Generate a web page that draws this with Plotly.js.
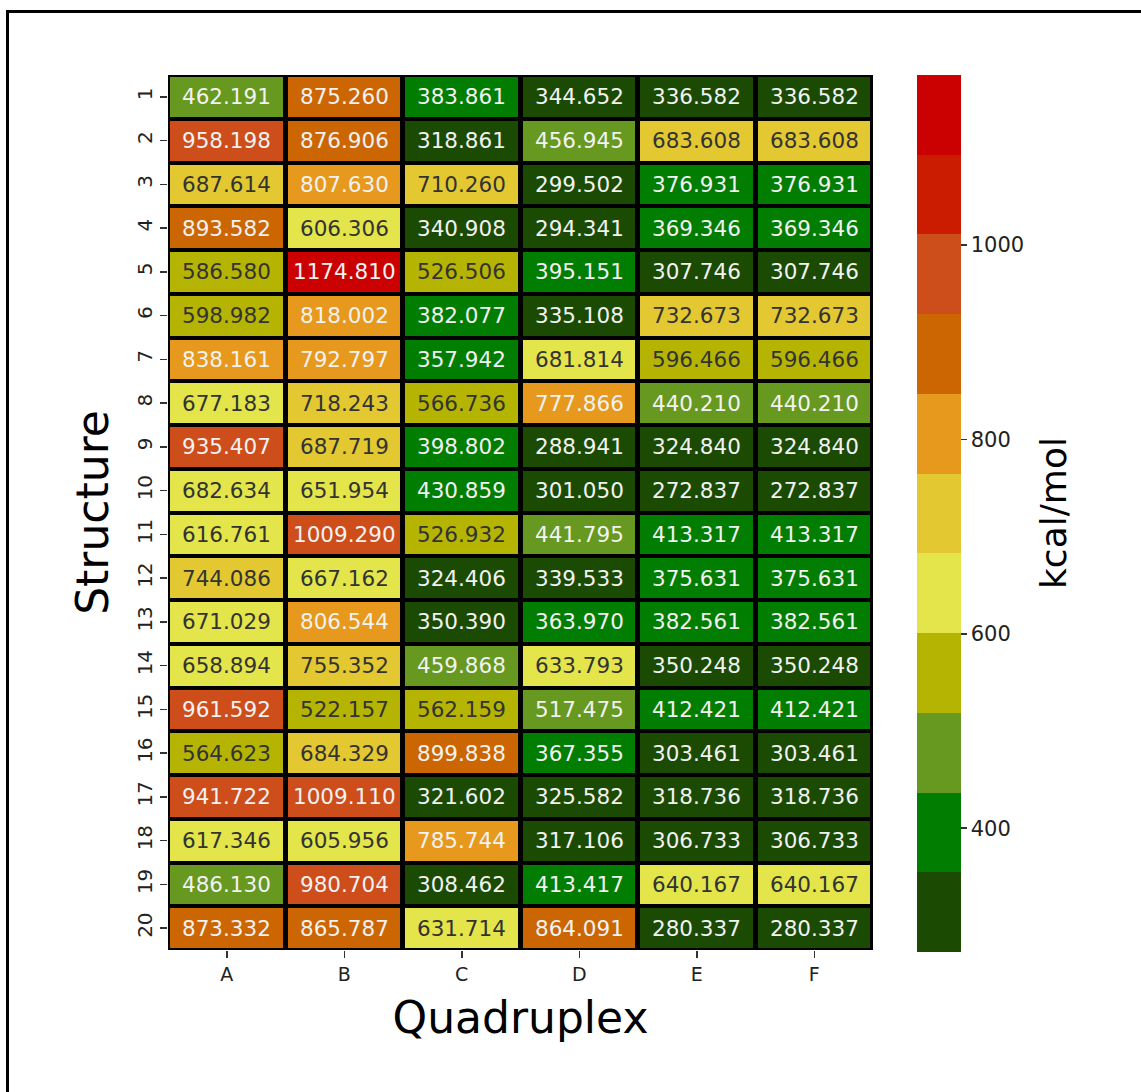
<!DOCTYPE html>
<html>
<head>
<meta charset="utf-8">
<script src="https://cdn.plot.ly/plotly-3.0.1.min.js"></script>
<style>
  html, body { margin: 0; padding: 0; background: #ffffff; overflow: hidden; }
  #frame { position: absolute; left: 6px; top: 10px; width: 2000px; height: 2000px;
           border-left: 3px solid #000; border-top: 3px solid #000; z-index: 5; pointer-events: none; }
  #chart { position: absolute; left: 0; top: 0; width: 1141px; height: 1092px; }
</style>
</head>
<body>
<div id="chart"></div>
<div id="frame"></div>
<script>
// ---- data ----
const quadruplex = ['A', 'B', 'C', 'D', 'E', 'F'];
const structures = ['1','2','3','4','5','6','7','8','9','10','11','12','13','14','15','16','17','18','19','20'];

const colA = [462.191, 958.198, 687.614, 893.582, 586.580, 598.982, 838.161, 677.183, 935.407, 682.634,
              616.761, 744.086, 671.029, 658.894, 961.592, 564.623, 941.722, 617.346, 486.130, 873.332];
const colB = [875.260, 876.906, 807.630, 606.306, 1174.810, 818.002, 792.797, 718.243, 687.719, 651.954,
              1009.290, 667.162, 806.544, 755.352, 522.157, 684.329, 1009.110, 605.956, 980.704, 865.787];
const colC = [383.861, 318.861, 710.260, 340.908, 526.506, 382.077, 357.942, 566.736, 398.802, 430.859,
              526.932, 324.406, 350.390, 459.868, 562.159, 899.838, 321.602, 785.744, 308.462, 631.714];
const colD = [344.652, 456.945, 299.502, 294.341, 395.151, 335.108, 681.814, 777.866, 288.941, 301.050,
              441.795, 339.533, 363.970, 633.793, 517.475, 367.355, 325.582, 317.106, 413.417, 864.091];
const colE = [336.582, 683.608, 376.931, 369.346, 307.746, 732.673, 596.466, 440.210, 324.840, 272.837,
              413.317, 375.631, 382.561, 350.248, 412.421, 303.461, 318.736, 306.733, 640.167, 280.337];
const colF = [336.582, 683.608, 376.931, 369.346, 307.746, 732.673, 596.466, 440.210, 324.840, 272.837,
              413.317, 375.631, 382.561, 350.248, 412.421, 303.461, 318.736, 306.733, 640.167, 280.337];

const colorbarTicks = [400, 600, 800, 1000];

// discrete colour bins (low -> high)
const binColors = ['#1b4a02', '#017d01', '#67981f', '#b6b402', '#e3e54a', '#e3c832',
                   '#e6991d', '#cc6602', '#cd4d1b', '#cb1c02', '#cb0000'];
const darkTextBins = [3, 4, 5];

// ---- build ----
const columns = [colA, colB, colC, colD, colE, colF];
const z = structures.map((s, r) => columns.map(c => c[r]));
const flat = [].concat(...z);
const zmin = Math.min(...flat), zmax = Math.max(...flat);
const nb = binColors.length;
const colorscale = [];
binColors.forEach((c, i) => { colorscale.push([i / nb, c]); colorscale.push([(i + 1) / nb, c]); });

function binOf(v) {
  let b = Math.floor((v - zmin) / (zmax - zmin) * nb);
  return Math.max(0, Math.min(nb - 1, b));
}

const annotations = [];
structures.forEach((s, r) => {
  quadruplex.forEach((q, c) => {
    const v = z[r][c];
    annotations.push({
      x: c, y: r, xref: 'x', yref: 'y', showarrow: false,   // category indices
      text: v.toFixed(3),
      font: { family: 'DejaVu Sans', size: 21.5,
              color: darkTextBins.includes(binOf(v)) ? '#333333' : '#f2f2f2' }
    });
  });
});
// colour bar title
annotations.push({
  xref: 'paper', yref: 'paper', x: 1.256, y: 0.5, xanchor: 'center', yanchor: 'middle',
  showarrow: false, textangle: -90, text: 'kcal/mol',
  font: { family: 'DejaVu Sans', size: 36, color: '#000' }
});

const trace = {
  type: 'heatmap',
  x: quadruplex,
  y: structures,
  z: z,
  zmin: zmin, zmax: zmax,
  colorscale: colorscale,
  xgap: 5, ygap: 4,
  hoverinfo: 'skip',
  colorbar: {
    thickness: 44, len: 1.002, lenmode: 'fraction', y: 0.499, yanchor: 'middle',
    x: 1.0624, xanchor: 'left', xpad: 0, ypad: 0,
    outlinewidth: 0,
    tickmode: 'array', tickvals: colorbarTicks, tickprefix: '  ',
    ticks: 'outside', ticklen: 6, tickwidth: 1.5, tickcolor: '#333',
    tickfont: { family: 'DejaVu Sans', size: 21, color: '#222' }
  }
};

const layout = {
  width: 1141, height: 1092,
  margin: { l: 168, r: 268, t: 75, b: 142 },
  paper_bgcolor: '#ffffff',
  plot_bgcolor: '#000000',
  font: { family: 'DejaVu Sans', color: '#222' },
  xaxis: {
    type: 'category', showgrid: false, zeroline: false,
    ticks: 'outside', ticklen: 7, tickwidth: 1.5, tickcolor: '#333',
    tickfont: { family: 'DejaVu Sans', size: 19, color: '#222' },
    title: { text: 'Quadruplex', font: { family: 'DejaVu Sans', size: 44, color: '#000' }, standoff: 18 },
    showline: false
  },
  yaxis: {
    type: 'category', autorange: 'reversed', showgrid: false, zeroline: false,
    ticks: 'outside', ticklen: 7, tickwidth: 1.5, tickcolor: '#333',
    tickangle: -90,
    tickfont: { family: 'DejaVu Sans', size: 20, color: '#222' },
    title: { text: 'Structure', font: { family: 'DejaVu Sans', size: 44, color: '#000' }, standoff: 10 },
    showline: false
  },
  annotations: annotations
};

Plotly.newPlot('chart', [trace], layout, { displayModeBar: false, staticPlot: true });
</script>
</body>
</html>
